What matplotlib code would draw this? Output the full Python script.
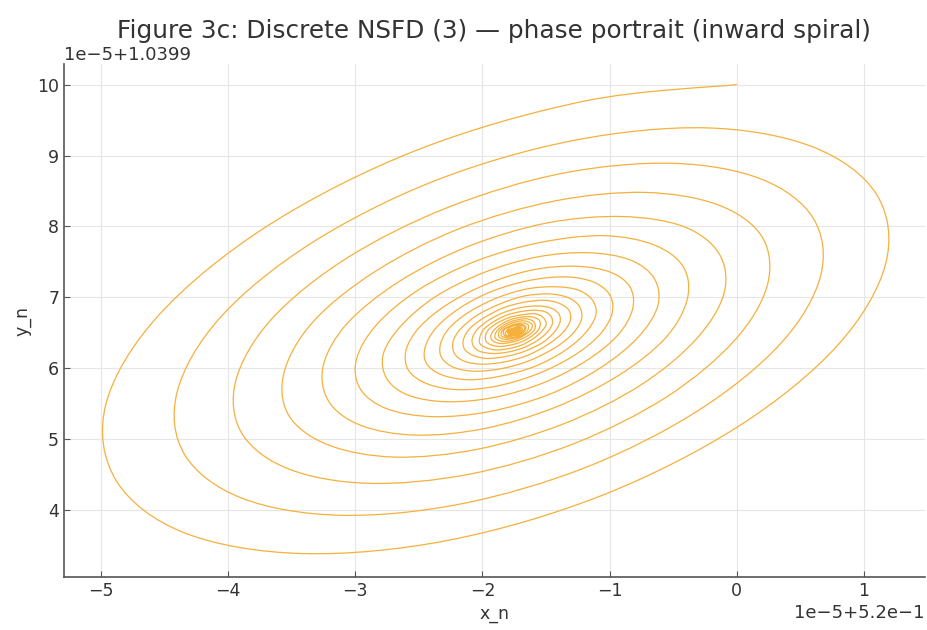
import numpy as np
import matplotlib
matplotlib.use("Agg")
from matplotlib import pyplot as plt
from matplotlib.path import Path
from matplotlib.patches import PathPatch

# Точки траєкторії (у одиницях 1e-5 відносно зсувів осей)
x_base = 0.52
y_base = 1.0399

x_pts = [
    0.00, -1.19, -2.51, -3.68, -4.54, -4.96, -4.88, -4.34, -3.41, -2.26, -1.06, 0.01, 0.79, 1.17, 1.10, 0.60,
    -0.24, -1.29, -2.38, -3.35, -4.06, -4.40, -4.34, -3.89, -3.12, -2.17, -1.18, -0.30, 0.35, 0.66, 0.60, 0.19,
    -0.50, -1.37, -2.27, -3.07, -3.66, -3.94, -3.89, -3.52, -2.89, -2.10, -1.28, -0.55, -0.02, 0.24, 0.20, -0.14,
    -0.72, -1.43, -2.18, -2.84, -3.33, -3.56, -3.52, -3.21, -2.69, -2.04, -1.36, -0.76, -0.32, -0.10, -0.14, -0.42,
    -0.90, -1.49, -2.11, -2.65, -3.06, -3.25, -3.21, -2.96, -2.53, -1.99, -1.43, -0.93, -0.56, -0.39, -0.42, -0.65,
    -1.04, -1.53, -2.04, -2.50, -2.83, -2.99, -2.96, -2.75, -2.39, -1.95, -1.48, -1.07, -0.77, -0.62, -0.65, -0.84,
    -1.17, -1.57, -1.99, -2.37, -2.64, -2.78, -2.75, -2.58, -2.28, -1.91, -1.53, -1.19, -0.94, -0.82, -0.84, -1.00,
    -1.27, -1.60, -1.95, -2.26, -2.49, -2.60, -2.58, -2.43, -2.19, -1.89, -1.57, -1.29, -1.08, -0.98, -1.00, -1.13,
    -1.35, -1.63, -1.92, -2.17, -2.36, -2.45, -2.44, -2.32, -2.11, -1.86, -1.60, -1.37, -1.20, -1.11, -1.13, -1.24,
    -1.42, -1.65, -1.89, -2.10, -2.26, -2.33, -2.32, -2.22, -2.05, -1.84, -1.63, -1.43, -1.29, -1.22, -1.24, -1.33,
    -1.48, -1.67, -1.86, -2.04, -2.17, -2.23, -2.22, -2.14, -2.00, -1.83, -1.65, -1.49, -1.37, -1.31, -1.32, -1.40,
    -1.52, -1.68, -1.84, -1.99, -2.10, -2.15, -2.14, -2.07, -1.96, -1.81, -1.67, -1.53, -1.44, -1.39, -1.40, -1.46,
    -1.56, -1.69, -1.83, -1.95, -2.04, -2.08, -2.07, -2.02, -1.92, -1.80, -1.68, -1.57, -1.49, -1.45, -1.46, -1.51,
    -1.60, -1.70, -1.81, -1.91, -1.99, -2.02, -2.02, -1.97, -1.89, -1.79, -1.69, -1.60, -1.54, -1.50, -1.51, -1.55,
    -1.62, -1.80, -1.95, -1.97, -1.87, -1.70, -1.57, -1.55,
    -1.64, -1.79, -1.91, -1.93, -1.85, -1.71, -1.60, -1.59,
    -1.66, -1.79, -1.88, -1.90, -1.83, -1.72, -1.63, -1.61,
    -1.68, -1.78, -1.86, -1.87, -1.82, -1.72, -1.65, -1.64,
    -1.69, -1.77, -1.84, -1.85, -1.80, -1.73, -1.67, -1.66,
    -1.70, -1.77, -1.83, -1.83, -1.80, -1.73, -1.68, -1.67,
    -1.71, -1.77, -1.81, -1.82, -1.79, -1.73, -1.69, -1.69,
    -1.72, -1.80, -1.78, -1.70,
    -1.72, -1.79, -1.78, -1.71,
    -1.73, -1.79, -1.77, -1.72,
    -1.73, -1.78, -1.77, -1.72,
    -1.73, -1.77, -1.76, -1.73,
    -1.74, -1.77, -1.76, -1.73,
    -1.74, -1.77, -1.76, -1.74,
    -1.74, -1.76, -1.75, -1.74,
    -1.75,
]

y_pts = [
    10.00, 9.77, 9.08, 8.02, 6.76, 5.50, 4.42, 3.68, 3.39, 3.58, 4.21, 5.18, 6.32, 7.47, 8.45, 9.12,
    9.39, 9.21, 8.64, 7.76, 6.72, 5.67, 4.78, 4.17, 3.93, 4.09, 4.61, 5.41, 6.36, 7.31, 8.12, 8.67,
    8.89, 8.75, 8.27, 7.55, 6.69, 5.82, 5.08, 4.58, 4.38, 4.51, 4.94, 5.60, 6.39, 7.17, 7.85, 8.30,
    8.48, 8.36, 7.97, 7.37, 6.66, 5.94, 5.33, 4.92, 4.75, 4.86, 5.22, 5.76, 6.41, 7.06, 7.62, 8.00,
    8.14, 8.05, 7.72, 7.23, 6.64, 6.05, 5.54, 5.20, 5.06, 5.15, 5.45, 5.90, 6.43, 6.97, 7.43, 7.74,
    7.87, 7.78, 7.52, 7.11, 6.62, 6.13, 5.71, 5.43, 5.32, 5.39, 5.63, 6.01, 6.45, 6.89, 7.27, 7.53,
    7.63, 7.57, 7.35, 7.01, 6.60, 6.20, 5.85, 5.62, 5.53, 5.59, 5.79, 6.10, 6.46, 6.83, 7.15, 7.36,
    7.44, 7.39, 7.20, 6.92, 6.59, 6.26, 5.97, 5.78, 5.70, 5.75, 5.92, 6.17, 6.47, 6.78, 7.04, 7.22,
    7.29, 7.24, 7.09, 6.86, 6.58, 6.30, 6.07, 5.91, 5.84, 5.89, 6.02, 6.23, 6.48, 6.74, 6.95, 7.10,
    7.15, 7.12, 6.99, 6.80, 6.57, 6.34, 6.15, 6.01, 5.96, 6.00, 6.11, 6.29, 6.49, 6.70, 6.88, 7.00,
    7.05, 7.02, 6.91, 6.75, 6.56, 6.38, 6.21, 6.10, 6.06, 6.09, 6.18, 6.33, 6.50, 6.67, 6.82, 6.92,
    6.96, 6.93, 6.85, 6.71, 6.56, 6.40, 6.27, 6.18, 6.14, 6.17, 6.24, 6.36, 6.50, 6.65, 6.77, 6.85,
    6.88, 6.86, 6.79, 6.68, 6.55, 6.42, 6.31, 6.24, 6.21, 6.23, 6.29, 6.39, 6.51, 6.63, 6.73, 6.80,
    6.82, 6.80, 6.75, 6.66, 6.55, 6.44, 6.35, 6.29, 6.26, 6.28, 6.33, 6.42, 6.51, 6.61, 6.69, 6.75,
    6.77, 6.71, 6.55, 6.38, 6.31, 6.37, 6.52, 6.67,
    6.73, 6.68, 6.54, 6.41, 6.35, 6.40, 6.52, 6.64,
    6.70, 6.65, 6.54, 6.43, 6.38, 6.42, 6.52, 6.62,
    6.67, 6.63, 6.54, 6.45, 6.41, 6.44, 6.52, 6.61,
    6.64, 6.61, 6.54, 6.46, 6.43, 6.45, 6.52, 6.59,
    6.62, 6.60, 6.54, 6.47, 6.45, 6.47, 6.52, 6.58,
    6.61, 6.59, 6.53, 6.48, 6.46, 6.48, 6.53, 6.57,
    6.59, 6.53, 6.47, 6.53,
    6.58, 6.53, 6.48, 6.53,
    6.57, 6.53, 6.49, 6.53,
    6.57, 6.53, 6.50, 6.53,
    6.56, 6.53, 6.50, 6.53,
    6.56, 6.53, 6.51, 6.53,
    6.55, 6.53, 6.51, 6.53,
    6.55, 6.53, 6.52, 6.53,
    6.53,
]

x_lim = (-5.29, 1.48)
y_lim = (3.06, 10.29)

x = x_base + np.array(x_pts) * 1e-5
y = y_base + np.array(y_pts) * 1e-5

fig = plt.figure(figsize=(9.28, 6.3), dpi=100)
ax = fig.add_axes([64 / 928, 1 - 577 / 630, (925 - 64) / 928, (577 - 64) / 630])

# Гладка крива через зчитані точки (кубічні сегменти Безьє, Catmull-Rom)
pts = np.column_stack([x, y])
ext = np.vstack([pts[0], pts, pts[-1]])
verts = [pts[0]]
codes = [Path.MOVETO]
for i in range(1, len(ext) - 2):
    p0, p1, p2, p3 = ext[i - 1], ext[i], ext[i + 1], ext[i + 2]
    verts += [p1 + (p2 - p0) / 6, p2 - (p3 - p1) / 6, p2]
    codes += [Path.CURVE4] * 3
ax.add_patch(PathPatch(Path(verts, codes), facecolor="none", edgecolor="#f6b03c", linewidth=0.9))

ax.set_xlim(x_base + x_lim[0] * 1e-5, x_base + x_lim[1] * 1e-5)
ax.set_ylim(y_base + y_lim[0] * 1e-5, y_base + y_lim[1] * 1e-5)

ax.grid(True, color="#e6e6e6", linewidth=0.8)
ax.set_axisbelow(True)
for side in ["top", "right"]:
    ax.spines[side].set_visible(False)
for side in ["left", "bottom"]:
    ax.spines[side].set_color("#555555")
    ax.spines[side].set_linewidth(1.2)
ax.tick_params(direction="in", length=4, color="#555555", labelcolor="#333333", labelsize=12.5)
ax.xaxis.get_offset_text().set_fontsize(13)
ax.yaxis.get_offset_text().set_fontsize(13)

ax.set_title("Figure 3c: Discrete NSFD (3) — phase portrait (inward spiral)", fontsize=17.8, color="#333333", pad=19)
ax.set_xlabel("x_n", fontsize=12.5, color="#333333")
ax.set_ylabel("y_n", fontsize=12.5, color="#333333")

fig.savefig("out.png", dpi=100)
